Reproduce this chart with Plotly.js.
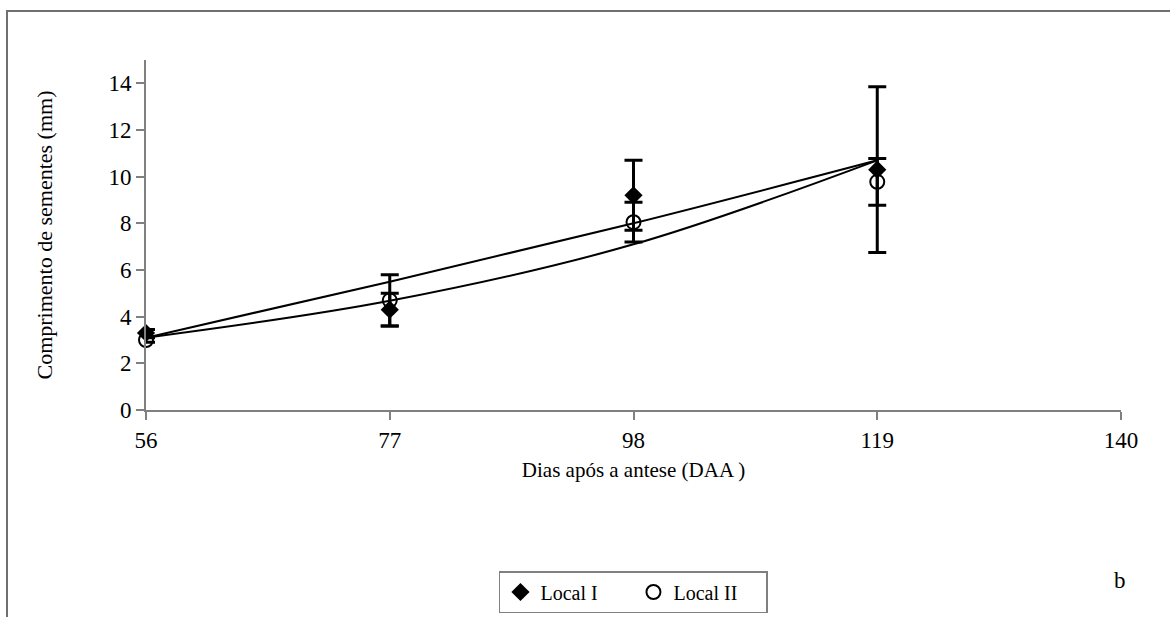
<!DOCTYPE html>
<html>
<head>
<meta charset="utf-8">
<script src="https://cdn.plot.ly/plotly-3.0.1.min.js"></script>
<style>
  html, body { margin: 0; padding: 0; background: #ffffff; overflow: hidden; }
  #chart { width: 1170px; height: 617px; }
</style>
</head>
<body>
<div id="chart"></div>
<script>
// Data
const days = [56, 77, 98, 119];
const localI = [3.3, 4.3, 9.2, 10.3];
const errLocalI = [0.15, 0.7, 1.5, 3.55];
const localII = [3.0, 4.7, 8.05, 9.78];
const errLocalII = [0.1, 1.1, 0.85, 1.0];
// Trend lines
const trendDays = [56, 77, 98, 119];
const trendLinear = [3.1, 5.5, 8.0, 10.7];
const trendCurve = [3.1, 4.68, 7.1, 10.7];
const xTicks = [56, 77, 98, 119, 140];
const yTicks = [0, 2, 4, 6, 8, 10, 12, 14];

const serif = "Liberation Serif";

const traces = [
  {
    x: trendDays, y: trendLinear, type: 'scatter', mode: 'lines',
    line: { color: '#000', width: 2, shape: 'spline' },
    showlegend: false, hoverinfo: 'skip', cliponaxis: false
  },
  {
    x: trendDays, y: trendCurve, type: 'scatter', mode: 'lines',
    line: { color: '#000', width: 2, shape: 'spline' },
    showlegend: false, hoverinfo: 'skip', cliponaxis: false
  },
  {
    x: days, y: localI, type: 'scatter', mode: 'markers', name: 'Local I',
    marker: { symbol: 'diamond', size: 14, color: '#000' },
    error_y: { type: 'data', array: errLocalI, visible: true, color: '#000', thickness: 3, width: 9 },
    cliponaxis: false
  },
  {
    x: days, y: localII, type: 'scatter', mode: 'markers', name: 'Local II',
    marker: { symbol: 'circle-open', size: 14, color: '#000', line: { width: 2, color: '#000' } },
    error_y: { type: 'data', array: errLocalII, visible: true, color: '#000', thickness: 3, width: 9 },
    cliponaxis: false
  }
];

const layout = {
  width: 1170, height: 617,
  margin: { l: 146, r: 49, t: 60, b: 207, autoexpand: false },
  paper_bgcolor: '#fff', plot_bgcolor: '#fff',
  font: { family: serif, color: '#000', size: 21 },
  showlegend: true,
  xaxis: {
    range: [56, 140], tickvals: xTicks, ticktext: xTicks.map(String),
    showline: true, linecolor: '#808080', linewidth: 2,
    ticks: 'outside', ticklen: 8, tickcolor: '#808080', tickwidth: 2,
    showgrid: false, zeroline: false,
    tickfont: { family: serif, size: 23, color: '#000' },
    title: { text: 'Dias após a antese (DAA )', font: { family: serif, size: 21, color: '#000' }, standoff: 11 },
    automargin: false, fixedrange: true
  },
  yaxis: {
    range: [0, 15], tickvals: yTicks, ticktext: yTicks.map(String),
    showline: true, linecolor: '#808080', linewidth: 2,
    ticks: 'outside', ticklen: 8, tickcolor: '#808080', tickwidth: 2,
    showgrid: false, zeroline: false,
    tickfont: { family: serif, size: 23, color: '#000' },
    title: { text: 'Comprimento de sementes (mm)', font: { family: serif, size: 22, color: '#000' }, standoff: 50 },
    automargin: false, fixedrange: true
  },
  legend: {
    orientation: 'h', x: 0.362, xanchor: 'left', y: -0.46, yanchor: 'top',
    bordercolor: '#808080', borderwidth: 1.5, bgcolor: '#fff',
    font: { family: serif, size: 20, color: '#000' },
    itemwidth: 30, tracegroupgap: 0,
    entrywidth: 88, entrywidthmode: 'pixels'
  },
  shapes: [
    {
      type: 'rect', xref: 'paper', yref: 'paper',
      x0: (7 - 146) / 975, x1: (1185 - 146) / 975,
      y0: (410 - 640) / 350, y1: (410 - 11) / 350,
      line: { color: '#707070', width: 2 }, fillcolor: 'rgba(0,0,0,0)', layer: 'below'
    }
  ],
  annotations: [
    {
      text: 'b', xref: 'paper', yref: 'paper',
      x: (1120 - 146) / 975, y: (410 - 580) / 350,
      xanchor: 'center', yanchor: 'middle',
      showarrow: false, font: { family: serif, size: 23, color: '#000' }
    }
  ]
};

Plotly.newPlot('chart', traces, layout, { displayModeBar: false, staticPlot: true });
</script>
</body>
</html>
